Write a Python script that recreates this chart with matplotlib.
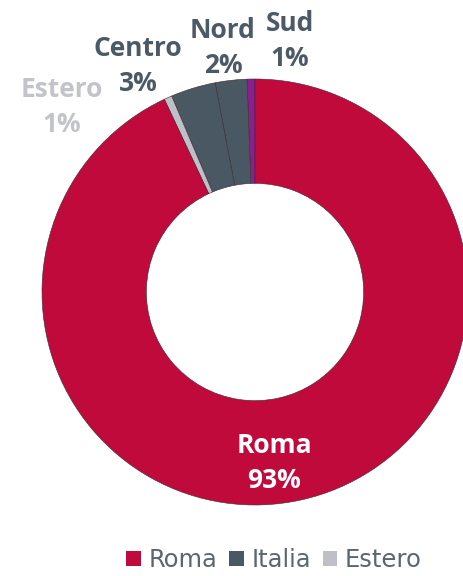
import matplotlib
matplotlib.use("Agg")
import matplotlib.pyplot as plt
from matplotlib.patches import Patch

# slices, counter-clockwise from 12 o'clock
slices = ["Sud", "Nord", "Centro", "Estero", "Roma"]
shares = [0.6, 2.4, 3.4, 0.6, 93.0]
shown = ["1%", "2%", "3%", "1%", "93%"]
slice_colors = ["#8E1E8E", "#4A5863", "#4A5863", "#BFBFC7", "#C00A3C"]
label_colors = ["#4B5A66", "#4B5A66", "#4B5A66", "#C3C3CB", "#FFFFFF"]

legend_names = ["Roma", "Italia", "Estero"]
legend_colors = ["#C00A3C", "#4A5863", "#BFBFC7"]

W, H = 464, 576
fig = plt.figure(figsize=(W / 100, H / 100), dpi=100)
ax = fig.add_axes([0, 0, 1, 1])

cx, cy, r = 255, H - 292, 213
wedges, _ = ax.pie(shares, colors=slice_colors, startangle=90, counterclock=True,
                   center=(cx, cy), radius=r, frame=True,
                   wedgeprops=dict(width=r * 0.49, edgecolor="#3a2a30", linewidth=0.4))
ax.set_xlim(0, W)
ax.set_ylim(0, H)
ax.set_aspect("equal")
ax.axis("off")

# label spots (pixel coords from top-left)
spots = [(290, 41), (223, 48), (138, 66), (62, 107), (274, 463)]
for name, txt, col, (x, y) in zip(slices, shown, label_colors, spots):
    ax.text(x, H - y, f"{name}\n{txt}", ha="center", va="center", color=col,
            fontsize=19, fontweight="bold", family="Open Sans", linespacing=1.42)

handles = [Patch(facecolor=c, edgecolor="none") for c in legend_colors]
fig.legend(handles, legend_names, loc="center", bbox_to_anchor=(274 / W, 1 - 560 / H),
           ncol=3, frameon=False, handlelength=0.6, handleheight=0.6,
           handletextpad=0.3, columnspacing=0.5,
           prop=dict(family="DejaVu Sans", size=17.5), labelcolor="#5B6670")

fig.savefig("out.png", dpi=100)
